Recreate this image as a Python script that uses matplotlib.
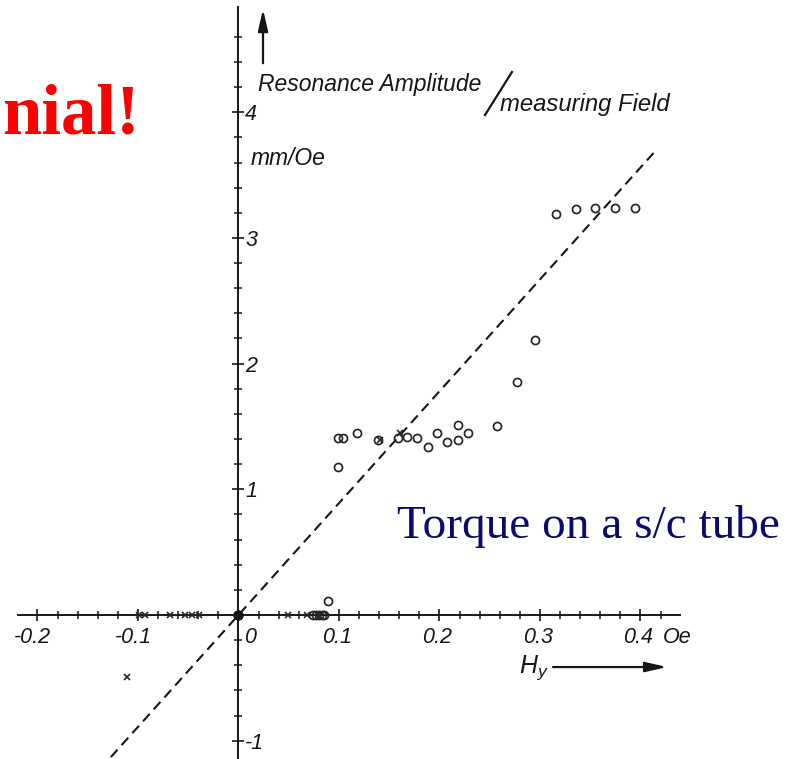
import numpy as np
import matplotlib
matplotlib.use("Agg")
import matplotlib.pyplot as plt
from matplotlib.ticker import FixedLocator, NullFormatter

plt.rcParams['mathtext.fontset'] = 'custom'
plt.rcParams['mathtext.it'] = 'Liberation Sans:italic'
plt.rcParams['mathtext.rm'] = 'Liberation Sans'

# --- measured points: field H_y (Oe) vs. resonance amplitude / measuring field (mm/Oe)
circle_h = [0.089, 0.0987, 0.0987, 0.104, 0.118, 0.139, 0.1584, 0.168, 0.1773,
            0.1889, 0.1978, 0.2075, 0.2184, 0.2184, 0.2281, 0.2569, 0.2768,
            0.2953, 0.3156, 0.3355, 0.3547, 0.3746, 0.3948]
circle_a = [0.11, 1.18, 1.41, 1.41, 1.445, 1.39, 1.41, 1.42, 1.41,
            1.34, 1.45, 1.38, 1.39, 1.51, 1.445, 1.50, 1.85,
            2.19, 3.19, 3.23, 3.24, 3.24, 3.24]

# circles lying on the H axis (zero amplitude)
circle0_h = [0.0, 0.074, 0.077, 0.080, 0.083, 0.085]
circle0_a = [0.0, 0.0, 0.0, 0.0, 0.0, 0.0]

# crosses
cross_h = [-0.111, 0.141, 0.161,
           -0.099, -0.093, -0.068, -0.053, -0.046, -0.039, 0.0, 0.049, 0.068]
cross_a = [-0.49, 1.39, 1.45,
           0.0, 0.0, 0.0, 0.0, 0.0, 0.0, 0.0, 0.0, 0.0]

# dark blob at the origin
origin_h = [0.0]
origin_a = [0.0]

# dashed reference line
line_h = [-0.127, 0.415]
line_slope = 8.9

# ticks
x_major = [-0.2, -0.1, 0.0, 0.1, 0.2, 0.3, 0.4]
x_major_labels = ["-0.2", "-0.1", "0", "0.1", "0.2", "0.3", "0.4"]
x_minor = np.round(np.arange(-0.2, 0.4201, 0.02), 3)
y_major = [-1, 1, 2, 3, 4]
y_major_labels = ["-1", "1", "2", "3", "4"]
y_minor = np.round(np.arange(-1.0, 4.61, 0.2), 3)

ink = '#161616'
sans_it = dict(family='Liberation Sans', style='italic', color=ink)

fig = plt.figure(figsize=(8.06, 7.59), dpi=100)
ax = fig.add_axes([0, 0, 1, 1])
ax.set_xlim(-0.2373, 0.5647)
ax.set_ylim(-1.1456, 4.893)
ax.patch.set_alpha(0)

# axes crossing at the origin
for side in ('top', 'right'):
    ax.spines[side].set_visible(False)
ax.spines['left'].set_position(('data', 0))
ax.spines['bottom'].set_position(('data', 0))
ax.spines['left'].set_bounds(-1.2, 4.84)
ax.spines['bottom'].set_bounds(-0.219, 0.439)
for side in ('left', 'bottom'):
    ax.spines[side].set_linewidth(1.4)
    ax.spines[side].set_color(ink)

ax.xaxis.set_major_locator(FixedLocator(x_major))
ax.xaxis.set_minor_locator(FixedLocator(x_minor))
ax.yaxis.set_major_locator(FixedLocator(y_major))
ax.yaxis.set_minor_locator(FixedLocator(y_minor))
ax.xaxis.set_major_formatter(NullFormatter())
ax.yaxis.set_major_formatter(NullFormatter())
ax.tick_params(which='major', direction='inout', length=8.5, width=1.2, color=ink,
               labelbottom=False, labelleft=False)
ax.tick_params(which='minor', direction='inout', length=5.5, width=1.1, color=ink)

# tick labels
for v, s in zip(x_major, x_major_labels):
    if v == 0:
        ax.text(0.0114, -0.175, s, fontsize=15.5, ha='center', va='center', **sans_it)
    elif v < 0:
        ax.text(v - 0.005, -0.175, s, fontsize=15.5, ha='center', va='center', **sans_it)
    else:
        ax.text(v - 0.002, -0.175, s, fontsize=15.5, ha='center', va='center', **sans_it)
ax.text(0.4224, -0.175, "Oe", fontsize=15.5, ha='left', va='center', **sans_it)
for v, s in zip(y_major, y_major_labels):
    ax.text(0.0065, v - 0.02, s, fontsize=15.5, ha='left', va='center', **sans_it)

# dashed line
lh = np.array(line_h)
ax.plot(lh, line_slope * lh, color=ink, lw=1.5, dashes=(4.8, 2.9), zorder=2)

# data marks
ax.plot(circle_h, circle_a, 'o', ms=5.8, mfc='none', mec='#262626', mew=1.25, zorder=3)
ax.plot(circle0_h, circle0_a, 'o', ms=5.8, mfc='none', mec='#262626', mew=1.25, zorder=3)
ax.plot(cross_h, cross_a, 'x', ms=5, mec='#262626', mew=1.2, zorder=3)
ax.plot(origin_h, origin_a, 'o', ms=6.5, mfc=ink, mec=ink, zorder=4)

# axis titles
ax.text(0.0194, 4.171, "Resonance Amplitude", fontsize=16.5, ha='left', va='baseline', **sans_it)
ax.plot([0.2453, 0.2721], [3.978, 4.320], color=ink, lw=1.6)
ax.text(0.2602, 4.01, "measuring Field", fontsize=17.2, ha='left', va='baseline', **sans_it)
ax.text(0.0124, 3.58, "mm/Oe", fontsize=16.5, ha='left', va='baseline', **sans_it)
ax.annotate('', xy=(0.0244, 4.82), xytext=(0.0244, 4.39),
            arrowprops=dict(arrowstyle='-|>,head_length=1.3,head_width=0.3',
                            color=ink, lw=1.6, shrinkA=0, shrinkB=0))

ax.text(0.2795, -0.461, r"$H_y$", fontsize=18, ha='left', va='baseline', color=ink)
ax.annotate('', xy=(0.4264, -0.414), xytext=(0.313, -0.414),
            arrowprops=dict(arrowstyle='-|>,head_length=1.3,head_width=0.3',
                            color=ink, lw=1.6, shrinkA=0, shrinkB=0))

# overlay captions
fig.text(0.4926, 0.2908, "Torque on a s/c tube", fontsize=34, color='#0b0b6e',
         family='Liberation Serif', ha='left', va='baseline')
fig.text(0.0021, 0.8244, "nial!", fontsize=51, color='#ff0000', fontweight='bold',
         family='Liberation Serif', ha='left', va='baseline')

fig.savefig("out.png", dpi=100)
